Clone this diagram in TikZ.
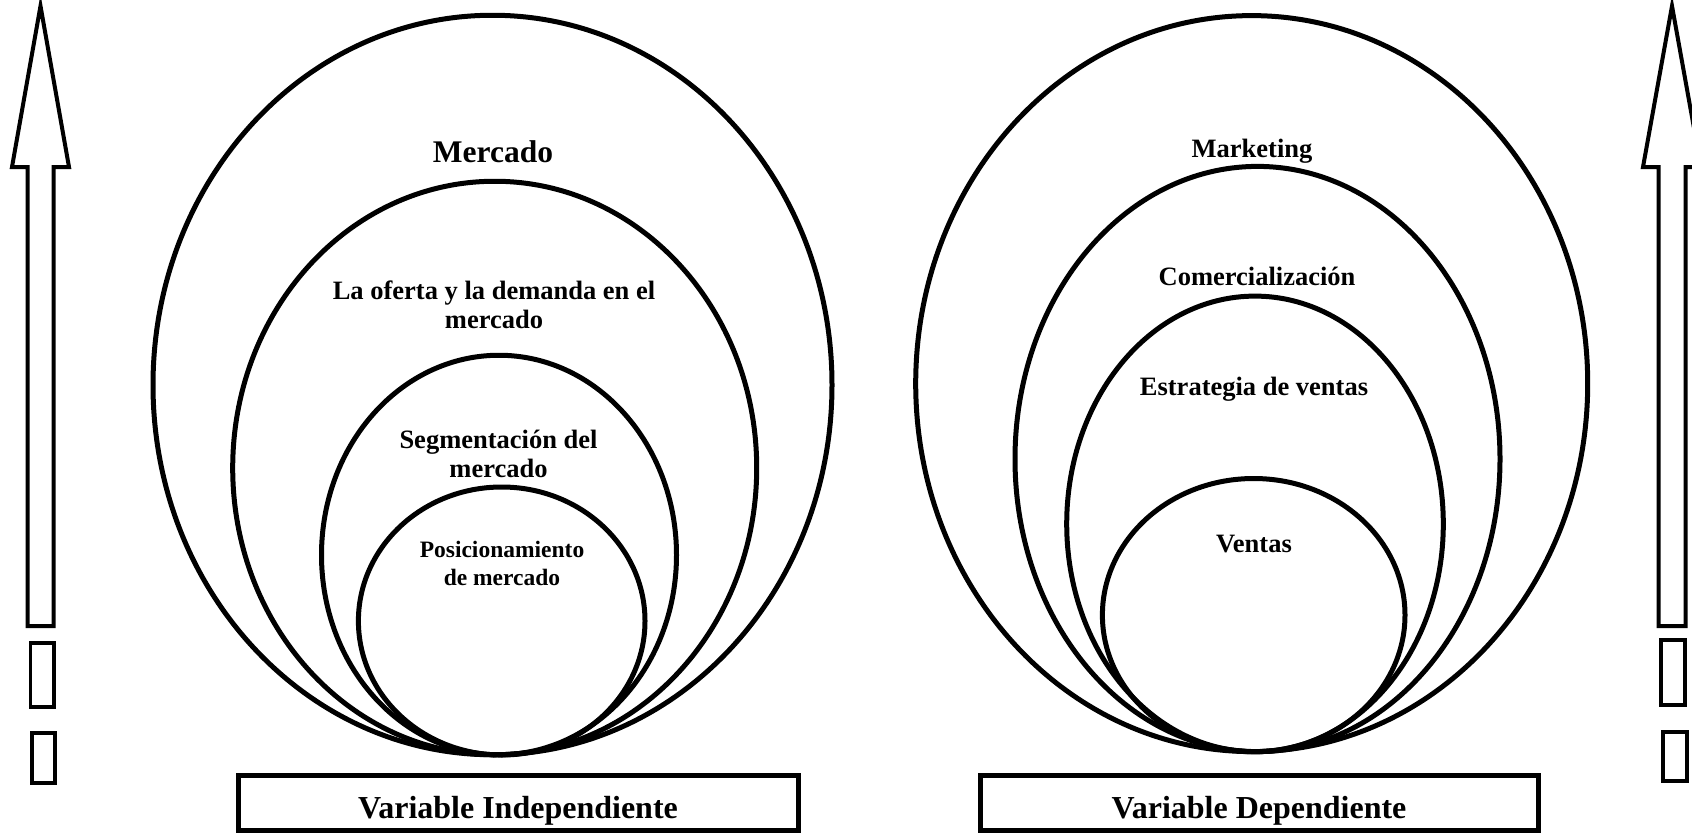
\documentclass[tikz,border=0pt]{standalone}
\usepackage{fontspec}
\setmainfont{Liberation Serif}
\begin{document}
\begin{tikzpicture}[x=1pt,y=-1pt,
  ring/.style={draw=black,line width=5pt},
  varbox/.style={draw=black,line width=5pt},
  upshape/.style={draw=black,line width=4pt,line join=miter},
  tick/.style={draw=black,line width=3.5pt},
  lbl/.style={font=\bfseries\fontsize{26.5}{29}\selectfont,align=center,inner sep=0pt},
  biglbl/.style={font=\bfseries\fontsize{31.5}{34}\selectfont,align=center,inner sep=0pt},
  smalllbl/.style={font=\bfseries\fontsize{23.5}{28}\selectfont,align=center,inner sep=0pt},
  boxlbl/.style={font=\bfseries\fontsize{32}{34}\selectfont,inner sep=0pt}]
\useasboundingbox (0,0) rectangle (1692,833);

% left upward arrow and the two small marks below it
\draw[upshape] (40.5,6) -- (69,167) -- (53.5,167) -- (53.5,626) -- (27.5,626)
  -- (27.5,167) -- (12,167) -- cycle;
\draw[tick] (30.5,643) rectangle (54,707);
\draw[tick] (32,733) rectangle (55,783);

% right upward arrow and its marks
\draw[upshape] (1672,6) -- (1701,167) -- (1685.5,167) -- (1685.5,626) -- (1658.5,626)
  -- (1658.5,167) -- (1643,167) -- cycle;
\draw[tick] (1661,640) rectangle (1685,705);
\draw[tick] (1663,732) rectangle (1687,781);

% independent variable: nested rings
\coordinate (m1) at (492.5,385);
\coordinate (m2) at (494.7,468);
\coordinate (m3) at (499,555);
\coordinate (m4) at (501.7,621);
\draw[ring] (m1) ellipse [x radius=339.5pt, y radius=369.75pt];
\draw[ring] (m2) ellipse [x radius=262pt, y radius=286.75pt];
\draw[ring] (m3) ellipse [x radius=177.5pt, y radius=199.75pt];
\draw[ring] (m4) ellipse [x radius=143.3pt, y radius=134pt];

\node[biglbl] (mercado) at (493,152) {Mercado};
\node[lbl] (oferta) at (494,305) {La oferta y la demanda en el\\mercado};
\node[lbl] (segm) at (498.5,454) {Segmentación del\\mercado};
\node[smalllbl] (posic) at (502,563) {Posicionamiento\\de mercado};

% dependent variable: nested rings
\coordinate (k1) at (1251.7,383.6);
\coordinate (k2) at (1257.5,459);
\coordinate (k3) at (1255,523.9);
\coordinate (k4) at (1253.7,615.1);
\draw[ring] (k1) ellipse [x radius=336pt, y radius=368pt];
\draw[ring] (k2) ellipse [x radius=242.5pt, y radius=292.6pt];
\draw[ring] (k3) ellipse [x radius=188.3pt, y radius=227.8pt];
\draw[ring] (k4) ellipse [x radius=151.3pt, y radius=136.6pt];

\node[lbl] (mkt) at (1252,151) {Marketing};
\node[lbl] (com) at (1257,276) {Comercialización};
\node[lbl] (estr) at (1254,389) {Estrategia de ventas};
\node[lbl] (ventas) at (1254,544) {Ventas};

% variable captions
\node[varbox,minimum width=560pt,minimum height=55pt,inner sep=0pt] (vi) at (518.5,803) {};
\node[boxlbl] (vitext) at (518,811) {Variable Independiente};
\node[varbox,minimum width=558.5pt,minimum height=55pt,inner sep=0pt] (vd) at (1259.25,803) {};
\node[boxlbl] (vdtext) at (1259,811) {Variable Dependiente};
\end{tikzpicture}
\end{document}
